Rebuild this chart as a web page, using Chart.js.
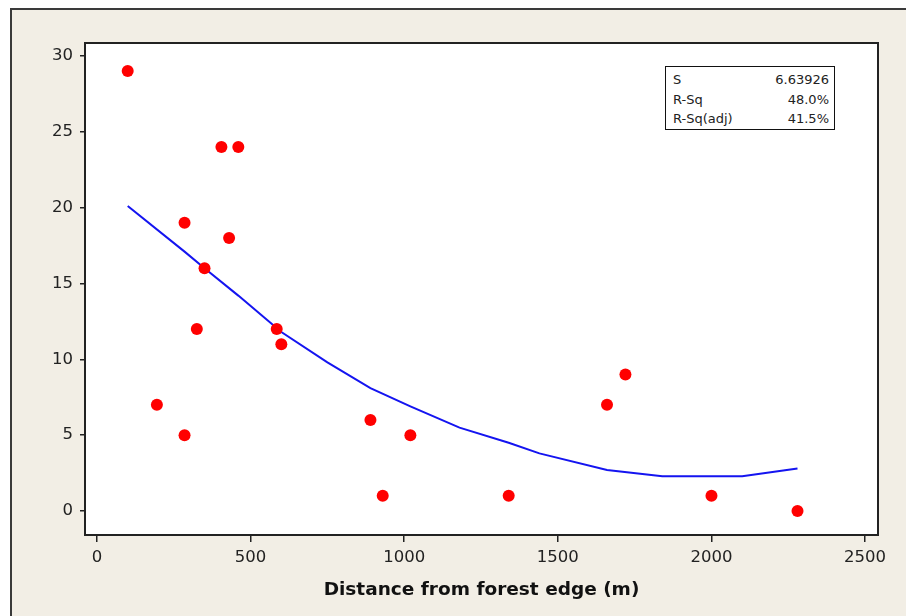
<!DOCTYPE html>
<html>
<head>
<meta charset="utf-8">
<script src="https://cdn.jsdelivr.net/npm/chart.js@4/dist/chart.umd.min.js"></script>
<style>
  html, body { margin: 0; padding: 0; background: #ffffff; }
  #wrap { position: relative; width: 906px; height: 616px; }
  #stats {
    position: absolute; left: 665px; top: 66px; width: 170px; height: 64px;
    box-sizing: border-box; border: 1.5px solid #111; background: #fff;
    font-family: "DejaVu Sans", sans-serif; font-size: 13px; color: #222;
    padding: 3px 5px 0 7px;
  }
  #stats .row { display: flex; justify-content: space-between; height: 19.5px; line-height: 19.5px; }
</style>
</head>
<body>
<div id="wrap">
  <canvas id="c" width="906" height="616"></canvas>
  <div id="stats"></div>
</div>
<script>
// ---- data ----
const distances = [100, 195, 285, 285, 325, 350, 405, 430, 460, 585, 600, 890, 930, 1020, 1340, 1660, 1720, 2000, 2280];
const counts    = [29, 7, 19, 5, 12, 16, 24, 18, 24, 12, 11, 6, 1, 5, 1, 7, 9, 1, 0];
const fitX = [100, 285, 350, 460, 600, 750, 890, 1020, 1180, 1340, 1440, 1660, 1840, 2100, 2280];
const fitY = [20.1, 17.1, 16.0, 14.2, 11.8, 9.8, 8.1, 6.9, 5.5, 4.5, 3.8, 2.7, 2.3, 2.3, 2.8];
const xTicks = [0, 500, 1000, 1500, 2000, 2500];
const yTicks = [0, 5, 10, 15, 20, 25, 30];
const statLabels = ["S", "R-Sq", "R-Sq(adj)"];
const statValues = ["6.63926", "48.0%", "41.5%"];
const xTitle = "Distance from forest edge (m)";

// stats box as real text
const statsEl = document.getElementById('stats');
statLabels.forEach((l, i) => {
  const r = document.createElement('div'); r.className = 'row';
  const a = document.createElement('span'); a.textContent = l;
  const b = document.createElement('span'); b.textContent = statValues[i];
  r.appendChild(a); r.appendChild(b); statsEl.appendChild(r);
});

const frame = {
  id: 'frame',
  beforeDraw(chart) {
    const ctx = chart.ctx, a = chart.chartArea;
    ctx.save();
    ctx.fillStyle = '#ffffff';
    ctx.fillRect(0, 0, chart.width, chart.height);
    ctx.fillStyle = '#f2eee5';
    ctx.fillRect(11, 9, chart.width, chart.height);
    ctx.strokeStyle = '#3a3a3a';
    ctx.lineWidth = 2;
    ctx.beginPath();
    ctx.moveTo(11, chart.height + 5); ctx.lineTo(11, 9); ctx.lineTo(chart.width + 5, 9);
    ctx.stroke();
    ctx.fillStyle = '#ffffff';
    ctx.fillRect(a.left, a.top, a.right - a.left, a.bottom - a.top);
    ctx.restore();
  },
  afterDraw(chart) {
    const ctx = chart.ctx, a = chart.chartArea;
    ctx.save();
    ctx.strokeStyle = '#222';
    ctx.lineWidth = 2;
    ctx.strokeRect(a.left, a.top, a.right - a.left, a.bottom - a.top);
    ctx.restore();
  }
};

const tickFont = { family: '"DejaVu Sans", sans-serif', size: 16.5 };

new Chart(document.getElementById('c'), {
  type: 'scatter',
  data: {
    datasets: [
      {
        label: 'Observed',
        data: distances.map((x, i) => ({ x, y: counts[i] })),
        backgroundColor: '#ff0000',
        borderColor: '#ff0000',
        pointRadius: 6,
        pointHoverRadius: 6,
        borderWidth: 0,
        order: 0
      },
      {
        label: 'Fit',
        data: fitX.map((x, i) => ({ x, y: fitY[i] })),
        showLine: true,
        borderColor: 'rgb(20,20,240)',
        borderWidth: 2,
        pointRadius: 0,
        fill: false,
        tension: 0,
        order: 1
      }
    ]
  },
  options: {
    responsive: false,
    animation: false,
    events: [],
    layout: { padding: { left: 0, top: 43, right: 28, bottom: 0 } },
    plugins: { legend: { display: false }, tooltip: { enabled: false } },
    scales: {
      x: {
        type: 'linear',
        min: -39, max: 2542,
        afterBuildTicks: s => { s.ticks = xTicks.map(v => ({ value: v })); },
        afterFit: s => { s.height = 81; },
        grid: { display: true, drawOnChartArea: false, drawTicks: true, tickLength: 7, color: '#222', lineWidth: 1.5 },
        border: { display: true, color: '#222', width: 2 },
        ticks: { font: tickFont, color: '#222', padding: 6, maxRotation: 0, autoSkip: false, callback: v => String(v) },
        title: {
          display: true, text: xTitle, color: '#111',
          font: { family: '"DejaVu Sans", sans-serif', size: 18.5, weight: 'bold' },
          padding: { top: 0, bottom: 15 }
        }
      },
      y: {
        type: 'linear',
        min: -1.58, max: 30.85,
        afterBuildTicks: s => { s.ticks = yTicks.map(v => ({ value: v })); },
        afterFit: s => { s.width = 85; },
        grid: { display: true, drawOnChartArea: false, drawTicks: true, tickLength: 5, color: '#222', lineWidth: 1.5 },
        border: { display: true, color: '#222', width: 2 },
        ticks: { font: tickFont, color: '#222', padding: 7, autoSkip: false, callback: v => String(v) }
      }
    }
  },
  plugins: [frame]
});
</script>
</body>
</html>
